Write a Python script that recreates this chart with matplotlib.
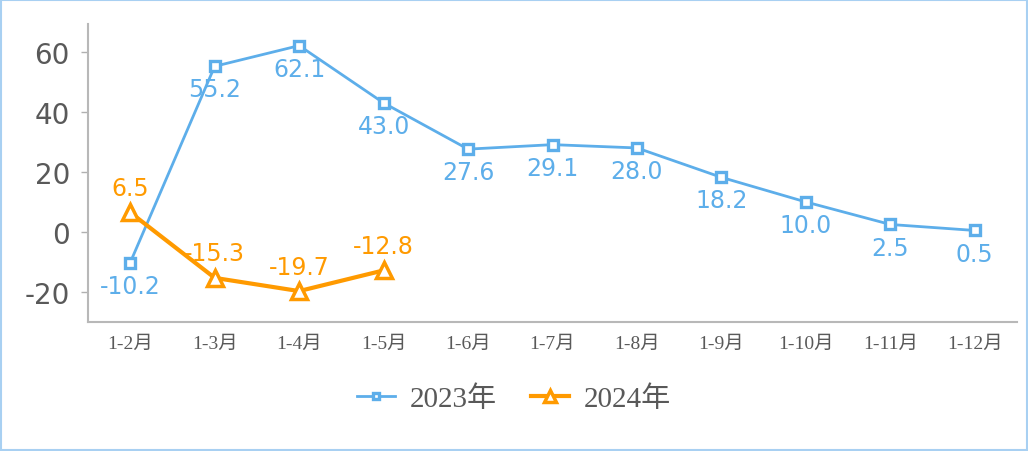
import matplotlib
matplotlib.use('Agg')
import matplotlib.pyplot as plt
from matplotlib.patches import Rectangle

plt.rcParams['font.family'] = ['DejaVu Sans']
plt.rcParams['axes.unicode_minus'] = False

months = ['1-2月', '1-3月', '1-4月', '1-5月', '1-6月', '1-7月', '1-8月',
          '1-9月', '1-10月', '1-11月', '1-12月']
y2023 = [-10.2, 55.2, 62.1, 43.0, 27.6, 29.1, 28.0, 18.2, 10.0, 2.5, 0.5]
y2024 = [6.5, -15.3, -19.7, -12.8]
yticks = [-20, 0, 20, 40, 60]

blue = '#5daeea'
orange = '#ff9a00'
gray = '#595959'
serif_cjk = ['Liberation Serif', 'Noto Sans CJK SC']

fig = plt.figure(figsize=(10.28, 4.52), dpi=100)
fig.patches.append(Rectangle((0.001, 0.002), 0.998, 0.996, transform=fig.transFigure,
                             fill=False, edgecolor='#a8d0f2', linewidth=1.5))
ax = fig.add_axes([88 / 1028, 1 - 323 / 452, (1017 - 88) / 1028, (323 - 25) / 452])

x1 = list(range(len(y2023)))
x2 = list(range(len(y2024)))
ax.plot(x1, y2023, color=blue, linewidth=2, marker='s', markersize=7,
        markerfacecolor='white', markeredgecolor=blue, markeredgewidth=2.4,
        label='2023年', zorder=3)
ax.plot(x2, y2024, color=orange, linewidth=3, marker='^', markersize=12,
        markerfacecolor='white', markeredgecolor=orange, markeredgewidth=2.5,
        label='2024年', zorder=5)

for x, v in zip(x1, y2023):
    ax.annotate(f'{v:.1f}', (x, v), xytext=(0, -8), textcoords='offset points',
                ha='center', va='top', color=blue, fontsize=17, zorder=6)
for x, v in zip(x2, y2024):
    ax.annotate(f'{v:.1f}', (x, v), xytext=(0, 9), textcoords='offset points',
                ha='center', va='bottom', color=orange, fontsize=17, zorder=6)

ax.set_xlim(-0.5, len(months) - 0.5)
ax.set_ylim(-30, 69.3)
ax.set_yticks(yticks)
ax.set_xticks(x1)
ax.set_xticklabels(months, family=serif_cjk, fontsize=14, color=gray)
ax.tick_params(axis='x', length=0, pad=9)
ax.tick_params(axis='y', length=5, width=1, color='#b0b0b0', labelsize=20,
               labelcolor=gray, pad=8)
for s in ['top', 'right']:
    ax.spines[s].set_visible(False)
for s in ['left', 'bottom']:
    ax.spines[s].set_color('#b8b8b8')
    ax.spines[s].set_linewidth(1.5)

leg = fig.legend(loc='center', bbox_to_anchor=(0.5, 1 - 400 / 452), ncol=2,
                 frameon=False, prop={'family': serif_cjk, 'size': 21},
                 handlelength=1.3, columnspacing=1.2, handletextpad=0.5,
                 markerscale=0.7)
for t in leg.get_texts():
    t.set_color(gray)

fig.savefig('out.png', dpi=100)
